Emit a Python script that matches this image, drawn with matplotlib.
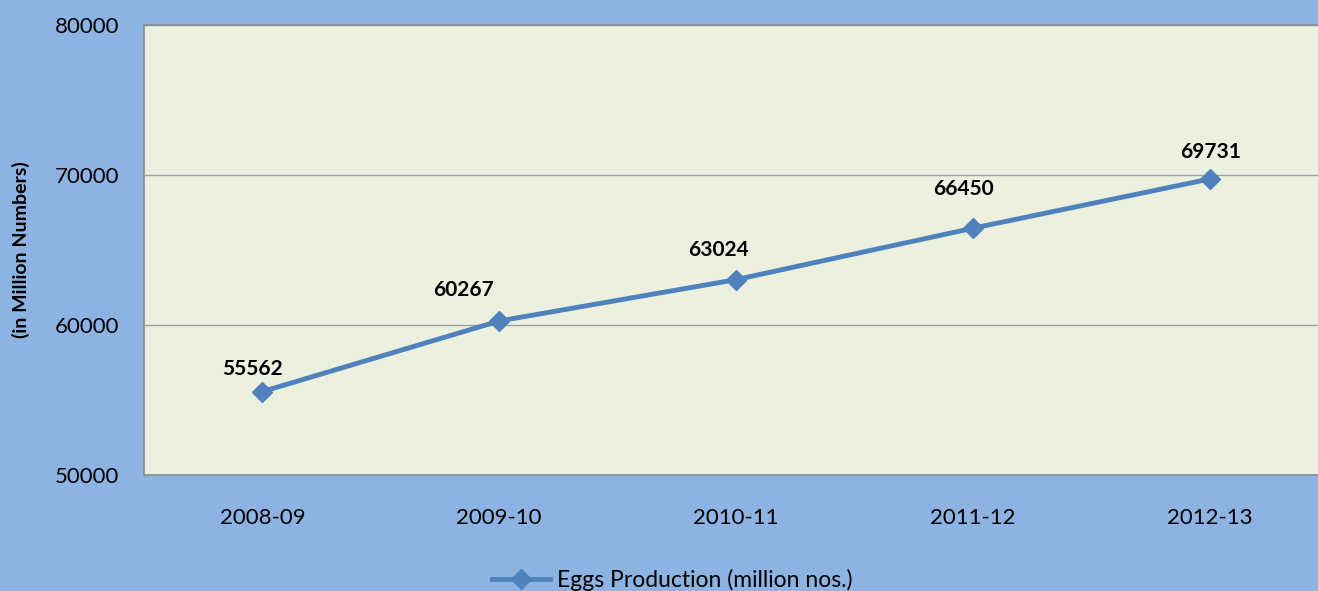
import matplotlib
matplotlib.use('Agg')
import matplotlib.pyplot as plt

years = ['2008-09', '2009-10', '2010-11', '2011-12', '2012-13']
eggs = [55562, 60267, 63024, 66450, 69731]

plt.rcParams['font.family'] = ['Lato', 'DejaVu Sans']

fig = plt.figure(figsize=(13.18, 5.91), dpi=100, facecolor='#8DB3E2')
ax = fig.add_axes([144 / 1318, 1 - 475 / 591, 1184 / 1318, 450 / 591])
ax.set_facecolor('#EBF1DE')

x = list(range(len(years)))
ax.plot(x, eggs, color='#4F81BD', lw=3.5, marker='D', ms=10,
        label='Eggs Production (million nos.)', zorder=3)

# label placement (points) as in the original, which was hand-positioned
label_offsets = [(-7, 16.5), (-26, 22), (-13, 21.5), (-6.5, 28), (0.7, 19.5)]
for xi, v, off in zip(x, eggs, label_offsets):
    ax.annotate(str(v), (xi, v), xytext=off, textcoords='offset points',
                ha='center', va='center', fontsize=15, fontweight='bold')

ax.set_xlim(-0.5, 4.5)
ax.set_ylim(50000, 80000)
ax.set_yticks([50000, 60000, 70000, 80000])
ax.set_xticks(x)
ax.set_xticklabels(years)
ax.yaxis.grid(True, color='#A0A0A0', lw=1)
ax.set_axisbelow(True)
ax.tick_params(length=0, labelsize=16)
ax.tick_params(axis='x', pad=24)
ax.tick_params(axis='y', pad=18)
for s in ax.spines.values():
    s.set_color('#8C8C8C')
    s.set_linewidth(1.2)

ax.set_ylabel('(in Million Numbers)', fontsize=14, fontweight='bold')
ax.yaxis.set_label_coords(-0.096, 0.5)

fig.legend(loc='lower center', bbox_to_anchor=(0.51, -0.035), frameon=False,
           fontsize=16.5, handlelength=2.5, handletextpad=0.3)

fig.savefig('out.png', dpi=100, facecolor=fig.get_facecolor())
